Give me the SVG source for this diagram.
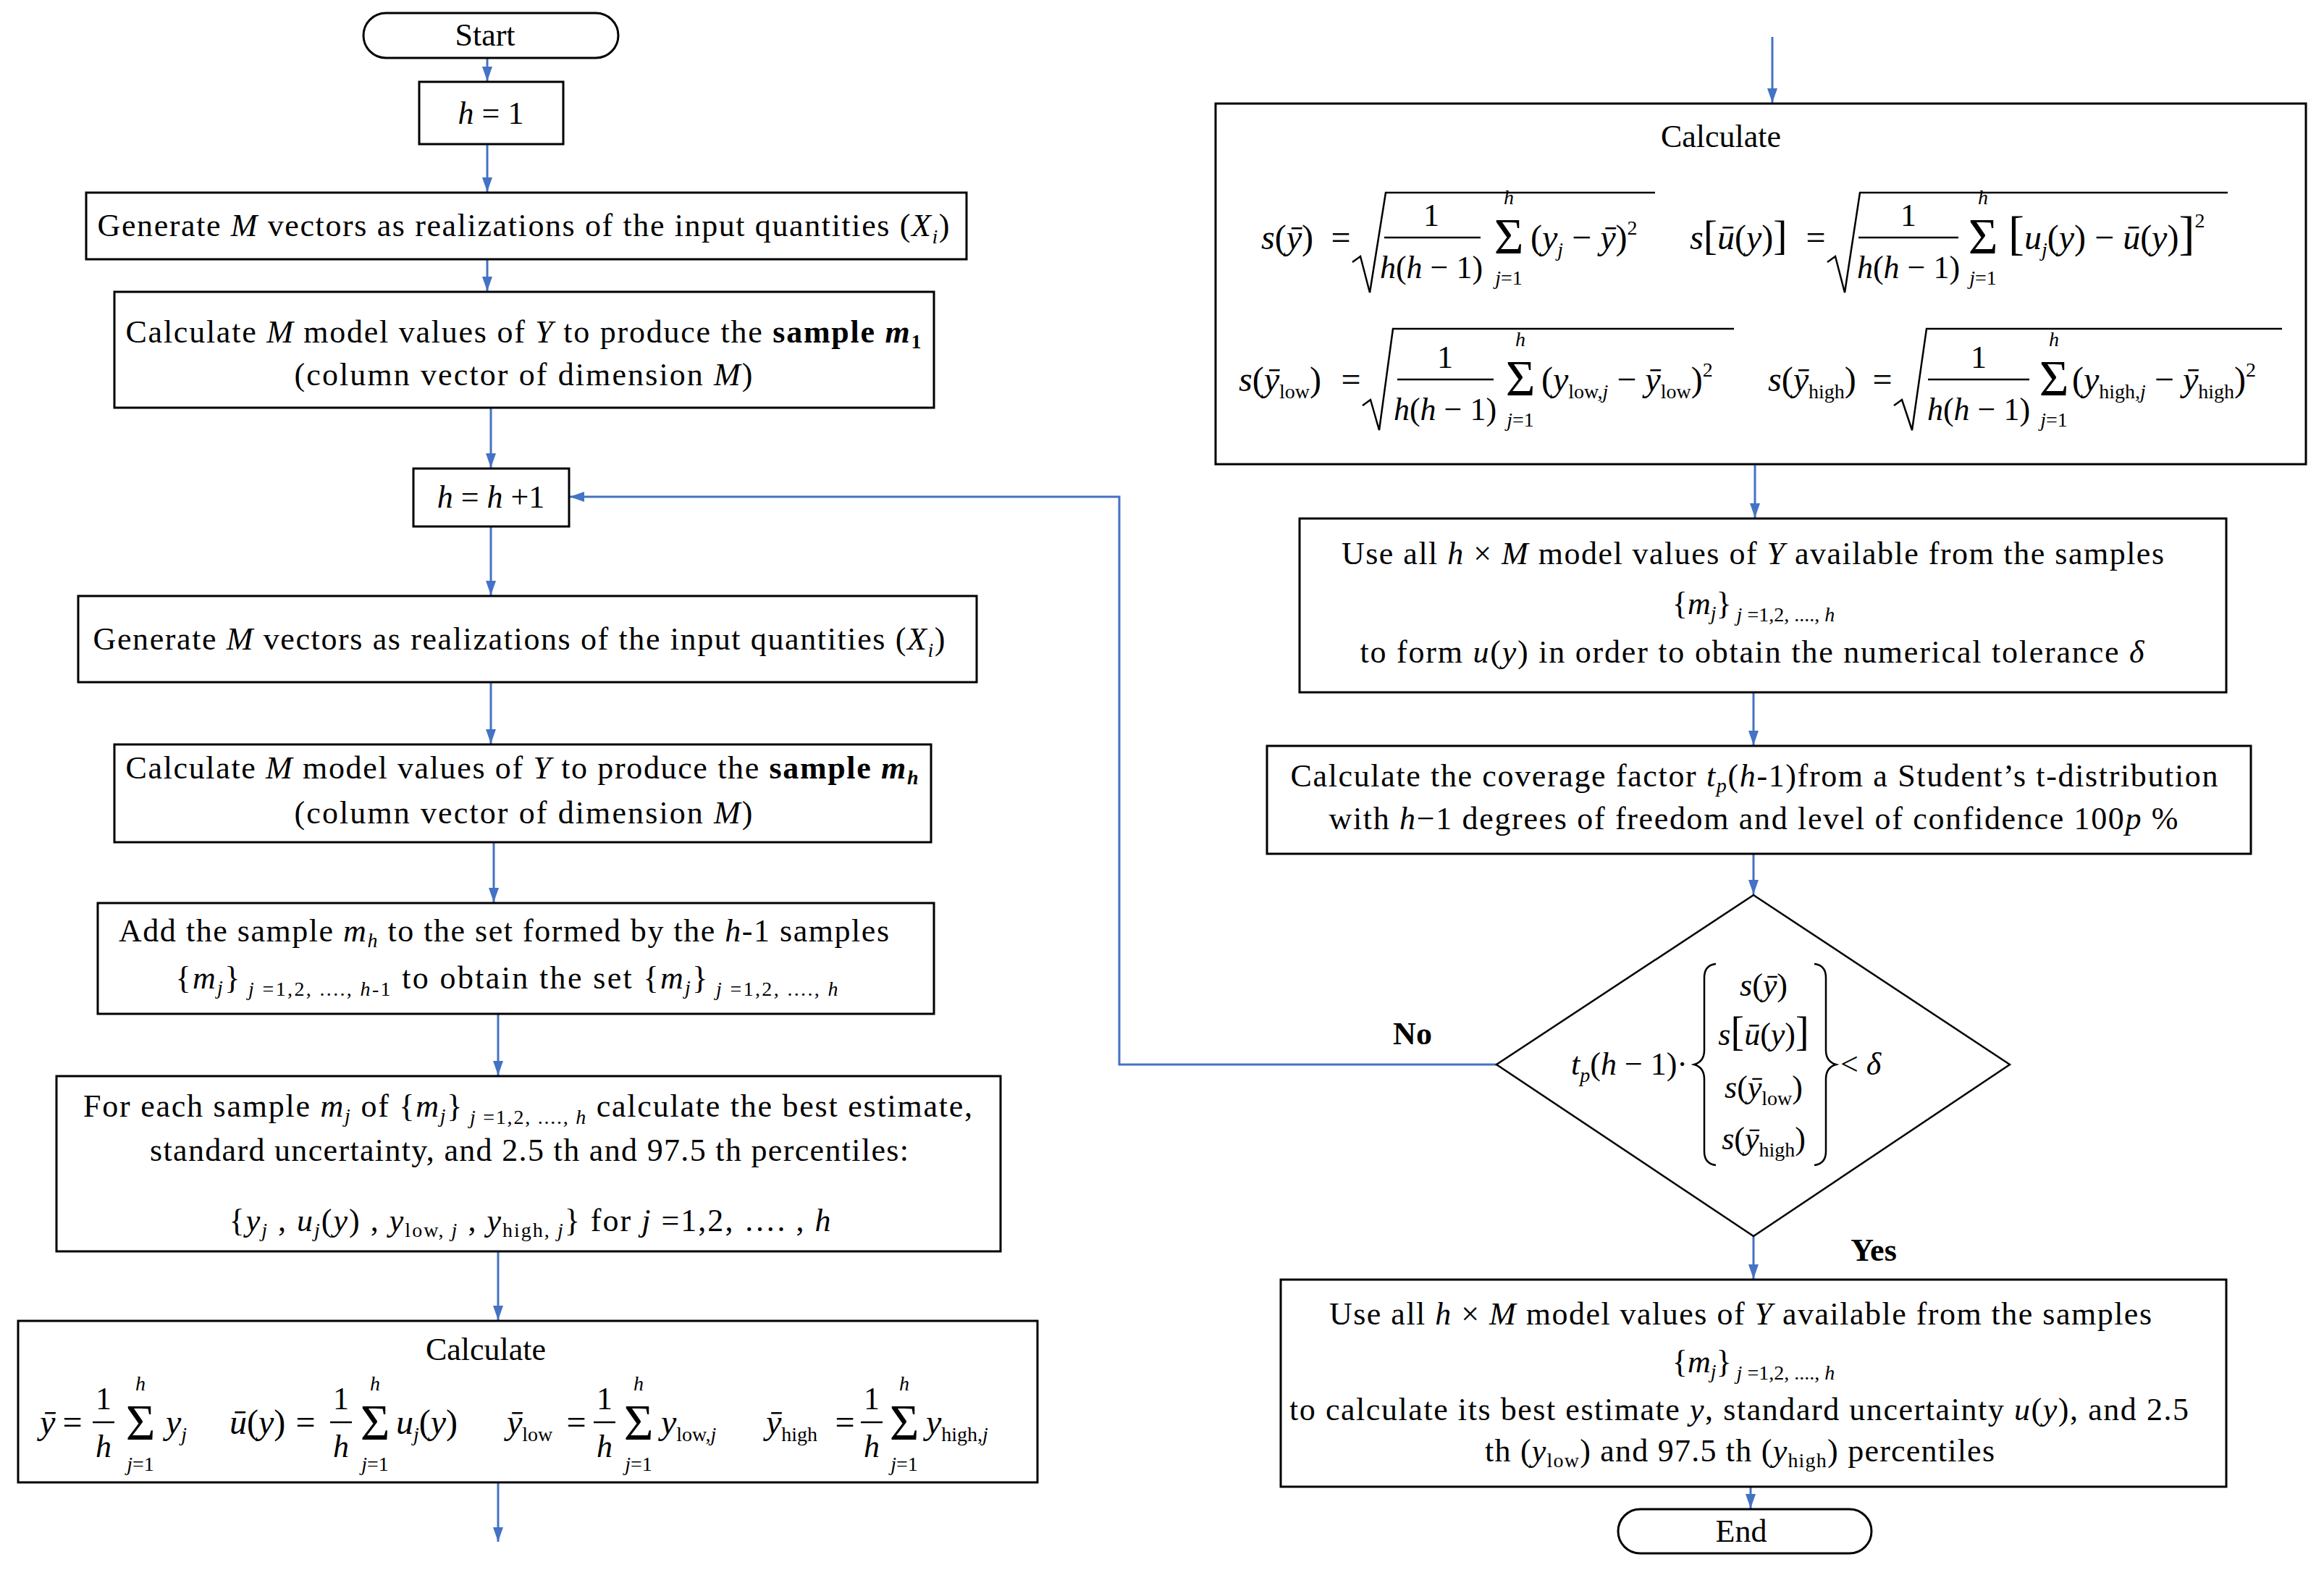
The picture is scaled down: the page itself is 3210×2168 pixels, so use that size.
<svg xmlns="http://www.w3.org/2000/svg" width="3210" height="2168" viewBox="0 0 3210 2168">
<defs>
<style>
.box{fill:#fff;stroke:#000;stroke-width:3}
.t{font-family:"Liberation Serif","Times New Roman",serif;font-size:44px;fill:#000}
.m{font-size:48px}
.i{font-style:italic}
.b{font-weight:bold}
.s{font-size:28px}
.sg{font-size:70px}
.conn{stroke:#4472C4;stroke-width:3;fill:none}
.ml{stroke:#000;stroke-width:2.5;fill:none}
</style>
<marker id="ah" markerWidth="20" markerHeight="14" refX="20" refY="7" orient="auto" markerUnits="userSpaceOnUse"><path d="M0,0 L20,7 L0,14 z" fill="#4472C4"/></marker>
</defs>
<rect width="3210" height="2168" fill="#fff"/>

<g id="connectors">
<path class="conn" marker-end="url(#ah)" d="M673,80 V112"/>
<path class="conn" marker-end="url(#ah)" d="M673,199 V265"/>
<path class="conn" marker-end="url(#ah)" d="M673,358 V402"/>
<path class="conn" marker-end="url(#ah)" d="M678,563 V646"/>
<path class="conn" marker-end="url(#ah)" d="M678,727 V822"/>
<path class="conn" marker-end="url(#ah)" d="M678,942 V1027"/>
<path class="conn" marker-end="url(#ah)" d="M682,1163 V1246"/>
<path class="conn" marker-end="url(#ah)" d="M688,1400 V1485"/>
<path class="conn" marker-end="url(#ah)" d="M688,1728 V1823"/>
<path class="conn" marker-end="url(#ah)" d="M688,2047 V2129"/>
<path class="conn" marker-end="url(#ah)" d="M2448,51 V142"/>
<path class="conn" marker-end="url(#ah)" d="M2424,641 V715"/>
<path class="conn" marker-end="url(#ah)" d="M2422,956 V1029"/>
<path class="conn" marker-end="url(#ah)" d="M2422,1179 V1235"/>
<path class="conn" marker-end="url(#ah)" d="M2422,1707 V1766"/>
<path class="conn" marker-end="url(#ah)" d="M2418,2053 V2083"/>
<path class="conn" marker-end="url(#ah)" d="M2067,1470 H1546 V686 H787"/>
<text class="t b" x="1951" y="1442" text-anchor="middle">No</text>
<text class="t b" x="2588" y="1741" text-anchor="middle">Yes</text>
</g>

<g id="start">
<rect class="box" x="502" y="18" width="352" height="62" rx="31"/>
<text class="t" x="670" y="63" text-anchor="middle">Start</text>
</g>

<g id="h1">
<rect class="box" x="579" y="113" width="199" height="86"/>
<text class="t" x="678" y="171" text-anchor="middle"><tspan class="i">h</tspan> = 1</text>
</g>

<g id="generate1">
<rect class="box" x="119" y="266" width="1216" height="92"/>
<text class="t" x="723" y="326" text-anchor="middle" textLength="1177" lengthAdjust="spacing">Generate <tspan class="i">M</tspan> vectors as realizations of the input quantities (<tspan class="i">X</tspan><tspan class="s i" dy="10">i</tspan><tspan dy="-10">)</tspan></text>
</g>

<g id="calc1">
<rect class="box" x="158" y="403" width="1132" height="160"/>
<text class="t" x="723" y="473" text-anchor="middle" textLength="1099" lengthAdjust="spacing">Calculate <tspan class="i">M</tspan> model values of <tspan class="i">Y</tspan> to produce the <tspan class="b">sample</tspan> <tspan class="b i">m</tspan><tspan class="s b" dy="8">1</tspan></text>
<text class="t" x="723" y="532" text-anchor="middle" textLength="633" lengthAdjust="spacing">(column vector of dimension <tspan class="i">M</tspan>)</text>
</g>

<g id="hplus1">
<rect class="box" x="571" y="647" width="215" height="80"/>
<text class="t" x="678" y="701" text-anchor="middle"><tspan class="i">h</tspan> = <tspan class="i">h</tspan> +1</text>
</g>

<g id="generate2">
<rect class="box" x="108" y="823" width="1241" height="119"/>
<text class="t" x="717" y="897" text-anchor="middle" textLength="1177" lengthAdjust="spacing">Generate <tspan class="i">M</tspan> vectors as realizations of the input quantities (<tspan class="i">X</tspan><tspan class="s i" dy="10">i</tspan><tspan dy="-10">)</tspan></text>
</g>

<g id="calc2">
<rect class="box" x="158" y="1028" width="1128" height="135"/>
<text class="t" x="721" y="1075" text-anchor="middle" textLength="1095" lengthAdjust="spacing">Calculate <tspan class="i">M</tspan> model values of <tspan class="i">Y</tspan> to produce the <tspan class="b">sample</tspan> <tspan class="b i">m</tspan><tspan class="s b i" dy="8">h</tspan></text>
<text class="t" x="723" y="1137" text-anchor="middle" textLength="633" lengthAdjust="spacing">(column vector of dimension <tspan class="i">M</tspan>)</text>
</g>

<g id="addsample">
<rect class="box" x="135" y="1247" width="1155" height="153"/>
<text class="t" x="696" y="1300" text-anchor="middle" textLength="1064" lengthAdjust="spacing">Add the sample <tspan class="i">m</tspan><tspan class="s i" dy="8">h</tspan><tspan dy="-8"> to the set formed by the </tspan><tspan class="i">h</tspan>-1 samples</text>
<text class="t" x="700" y="1365" text-anchor="middle" textLength="915" lengthAdjust="spacing">{<tspan class="i">m</tspan><tspan class="s i" dy="8">j</tspan><tspan dy="-8">}</tspan><tspan class="s" dy="10"> <tspan class="i">j</tspan> =1,2, ...., <tspan class="i">h</tspan>-1</tspan><tspan dy="-10"> to obtain the set {</tspan><tspan class="i">m</tspan><tspan class="s i" dy="8">j</tspan><tspan dy="-8">}</tspan><tspan class="s" dy="10"> <tspan class="i">j</tspan> =1,2, ...., <tspan class="i">h</tspan></tspan></text>
</g>

<g id="foreach">
<rect class="box" x="78" y="1486" width="1304" height="242"/>
<text class="t" x="729" y="1542" text-anchor="middle" textLength="1228" lengthAdjust="spacing">For each sample <tspan class="i">m</tspan><tspan class="s i" dy="8">j</tspan><tspan dy="-8"> of {</tspan><tspan class="i">m</tspan><tspan class="s i" dy="8">j</tspan><tspan dy="-8">}</tspan><tspan class="s" dy="10"> <tspan class="i">j</tspan> =1,2, ...., <tspan class="i">h</tspan></tspan><tspan dy="-10"> calculate the best estimate,</tspan></text>
<text class="t" x="731" y="1603" text-anchor="middle" textLength="1048" lengthAdjust="spacing">standard uncertainty, and 2.5 th and 97.5 th percentiles:</text>
<text class="t" x="732" y="1700" text-anchor="middle" textLength="831" lengthAdjust="spacing">{<tspan class="i">y</tspan><tspan class="s i" dy="8">j</tspan><tspan dy="-8"> , </tspan><tspan class="i">u</tspan><tspan class="s i" dy="8">j</tspan><tspan dy="-8">(</tspan><tspan class="i">y</tspan>) , <tspan class="i">y</tspan><tspan class="s" dy="8">low, <tspan class="i">j</tspan></tspan><tspan dy="-8"> , </tspan><tspan class="i">y</tspan><tspan class="s" dy="8">high, <tspan class="i">j</tspan></tspan><tspan dy="-8">} for </tspan><tspan class="i">j</tspan> =1,2, …. , <tspan class="i">h</tspan></text>
</g>

<g id="calcmeans">
<rect class="box" x="25" y="1824" width="1408" height="223"/>
<text class="t" x="671" y="1878" text-anchor="middle">Calculate</text>
<!-- y bar -->
<text class="t m" x="55" y="1980"><tspan class="i">ȳ</tspan></text>
<text class="t m" x="100" y="1980" text-anchor="middle">=</text>
<text class="t" x="143" y="1946" text-anchor="middle">1</text>
<line class="ml" x1="128" y1="1964" x2="158" y2="1964"/>
<text class="t i" x="143" y="2012" text-anchor="middle">h</text>
<text class="t sg" x="194" y="1988" text-anchor="middle">Σ</text>
<text class="t s i" x="194" y="1920" text-anchor="middle">h</text>
<text class="t s" x="194" y="2031" text-anchor="middle"><tspan class="i">j</tspan>=1</text>
<text class="t m" x="229" y="1980"><tspan class="i">y</tspan><tspan class="s i" dy="10">j</tspan></text>
<!-- u bar -->
<text class="t m" x="317" y="1980"><tspan class="i">ū</tspan>(<tspan class="i">y</tspan>)</text>
<text class="t m" x="422" y="1980" text-anchor="middle">=</text>
<text class="t" x="471" y="1946" text-anchor="middle">1</text>
<line class="ml" x1="456" y1="1964" x2="486" y2="1964"/>
<text class="t i" x="471" y="2012" text-anchor="middle">h</text>
<text class="t sg" x="518" y="1988" text-anchor="middle">Σ</text>
<text class="t s i" x="518" y="1920" text-anchor="middle">h</text>
<text class="t s" x="518" y="2031" text-anchor="middle"><tspan class="i">j</tspan>=1</text>
<text class="t m" x="547" y="1980"><tspan class="i">u</tspan><tspan class="s i" dy="10">j</tspan><tspan dy="-10">(</tspan><tspan class="i">y</tspan>)</text>
<!-- y low bar -->
<text class="t m" x="700" y="1980"><tspan class="i">ȳ</tspan><tspan class="s" dy="10">low</tspan></text>
<text class="t m" x="796" y="1980" text-anchor="middle">=</text>
<text class="t" x="835" y="1946" text-anchor="middle">1</text>
<line class="ml" x1="820" y1="1964" x2="850" y2="1964"/>
<text class="t i" x="835" y="2012" text-anchor="middle">h</text>
<text class="t sg" x="882" y="1988" text-anchor="middle">Σ</text>
<text class="t s i" x="882" y="1920" text-anchor="middle">h</text>
<text class="t s" x="882" y="2031" text-anchor="middle"><tspan class="i">j</tspan>=1</text>
<text class="t m" x="913" y="1980"><tspan class="i">y</tspan><tspan class="s" dy="10">low,<tspan class="i">j</tspan></tspan></text>
<!-- y high bar -->
<text class="t m" x="1058" y="1980"><tspan class="i">ȳ</tspan><tspan class="s" dy="10">high</tspan></text>
<text class="t m" x="1167" y="1980" text-anchor="middle">=</text>
<text class="t" x="1204" y="1946" text-anchor="middle">1</text>
<line class="ml" x1="1189" y1="1964" x2="1219" y2="1964"/>
<text class="t i" x="1204" y="2012" text-anchor="middle">h</text>
<text class="t sg" x="1249" y="1988" text-anchor="middle">Σ</text>
<text class="t s i" x="1249" y="1920" text-anchor="middle">h</text>
<text class="t s" x="1249" y="2031" text-anchor="middle"><tspan class="i">j</tspan>=1</text>
<text class="t m" x="1279" y="1980"><tspan class="i">y</tspan><tspan class="s" dy="10">high,<tspan class="i">j</tspan></tspan></text>
</g>

<g id="calcstd">
<rect class="box" x="1679" y="143" width="1506" height="498"/>
<text class="t" x="2377" y="203" text-anchor="middle">Calculate</text>
<!-- s(ybar) -->
<text class="t m" x="1742" y="344"><tspan class="i">s</tspan>(<tspan class="i">ȳ</tspan>)</text>
<text class="t m" x="1852" y="344" text-anchor="middle">=</text>
<path class="ml" d="M1868,362 L1879,354 L1892,404 L1914,266 H2286"/>
<text class="t" x="1977" y="312" text-anchor="middle">1</text>
<line class="ml" x1="1912" y1="328" x2="2045" y2="328"/>
<text class="t" x="1977" y="384" text-anchor="middle"><tspan class="i">h</tspan>(<tspan class="i">h</tspan> − 1)</text>
<text class="t sg" x="2084" y="350" text-anchor="middle">Σ</text>
<text class="t s i" x="2084" y="282" text-anchor="middle">h</text>
<text class="t s" x="2084" y="393" text-anchor="middle"><tspan class="i">j</tspan>=1</text>
<text class="t m" x="2114" y="344">(<tspan class="i">y</tspan><tspan class="s i" dy="10">j</tspan><tspan dy="-10"> − </tspan><tspan class="i">ȳ</tspan>)<tspan class="s" dy="-20">2</tspan></text>
<!-- s[ubar(y)] -->
<text class="t m" x="2334" y="344"><tspan class="i">s</tspan><tspan font-size="58">[</tspan><tspan class="i">ū</tspan>(<tspan class="i">y</tspan>)<tspan font-size="58">]</tspan></text>
<text class="t m" x="2508" y="344" text-anchor="middle">=</text>
<path class="ml" d="M2524,362 L2535,354 L2548,404 L2569,266 H3077"/>
<text class="t" x="2636" y="312" text-anchor="middle">1</text>
<line class="ml" x1="2567" y1="328" x2="2705" y2="328"/>
<text class="t" x="2636" y="384" text-anchor="middle"><tspan class="i">h</tspan>(<tspan class="i">h</tspan> − 1)</text>
<text class="t sg" x="2739" y="350" text-anchor="middle">Σ</text>
<text class="t s i" x="2739" y="282" text-anchor="middle">h</text>
<text class="t s" x="2739" y="393" text-anchor="middle"><tspan class="i">j</tspan>=1</text>
<text class="t m" x="2774" y="344"><tspan font-size="66">[</tspan><tspan class="i">u</tspan><tspan class="s i" dy="10">j</tspan><tspan dy="-10">(</tspan><tspan class="i">y</tspan>) − <tspan class="i">ū</tspan>(<tspan class="i">y</tspan>)<tspan font-size="66">]</tspan><tspan class="s" dy="-30">2</tspan></text>
<!-- s(ybar low) -->
<text class="t m" x="1711" y="540"><tspan class="i">s</tspan>(<tspan class="i">ȳ</tspan><tspan class="s" dy="10">low</tspan><tspan dy="-10">)</tspan></text>
<text class="t m" x="1866" y="540" text-anchor="middle">=</text>
<path class="ml" d="M1882,560 L1893,552 L1905,594 L1924,454 H2395"/>
<text class="t" x="1996" y="508" text-anchor="middle">1</text>
<line class="ml" x1="1930" y1="524" x2="2063" y2="524"/>
<text class="t" x="1996" y="580" text-anchor="middle"><tspan class="i">h</tspan>(<tspan class="i">h</tspan> − 1)</text>
<text class="t sg" x="2100" y="546" text-anchor="middle">Σ</text>
<text class="t s i" x="2100" y="478" text-anchor="middle">h</text>
<text class="t s" x="2100" y="589" text-anchor="middle"><tspan class="i">j</tspan>=1</text>
<text class="t m" x="2129" y="540">(<tspan class="i">y</tspan><tspan class="s" dy="10">low,<tspan class="i">j</tspan></tspan><tspan dy="-10"> − </tspan><tspan class="i">ȳ</tspan><tspan class="s" dy="10">low</tspan><tspan dy="-10">)</tspan><tspan class="s" dy="-20">2</tspan></text>
<!-- s(ybar high) -->
<text class="t m" x="2442" y="540"><tspan class="i">s</tspan>(<tspan class="i">ȳ</tspan><tspan class="s" dy="10">high</tspan><tspan dy="-10">)</tspan></text>
<text class="t m" x="2600" y="540" text-anchor="middle">=</text>
<path class="ml" d="M2616,560 L2627,552 L2641,594 L2661,454 H3152"/>
<text class="t" x="2733" y="508" text-anchor="middle">1</text>
<line class="ml" x1="2663" y1="524" x2="2803" y2="524"/>
<text class="t" x="2733" y="580" text-anchor="middle"><tspan class="i">h</tspan>(<tspan class="i">h</tspan> − 1)</text>
<text class="t sg" x="2837" y="546" text-anchor="middle">Σ</text>
<text class="t s i" x="2837" y="478" text-anchor="middle">h</text>
<text class="t s" x="2837" y="589" text-anchor="middle"><tspan class="i">j</tspan>=1</text>
<text class="t m" x="2862" y="540">(<tspan class="i">y</tspan><tspan class="s" dy="10">high,<tspan class="i">j</tspan></tspan><tspan dy="-10"> − </tspan><tspan class="i">ȳ</tspan><tspan class="s" dy="10">high</tspan><tspan dy="-10">)</tspan><tspan class="s" dy="-20">2</tspan></text>
</g>

<g id="tolerance">
<rect class="box" x="1795" y="716" width="1280" height="240"/>
<text class="t" x="2421" y="779" text-anchor="middle" textLength="1136" lengthAdjust="spacing">Use all <tspan class="i">h</tspan> × <tspan class="i">M</tspan> model values of <tspan class="i">Y</tspan> available from the samples</text>
<text class="t" x="2422" y="848" text-anchor="middle">{<tspan class="i">m</tspan><tspan class="s i" dy="8">j</tspan><tspan dy="-8">}</tspan><tspan class="s" dy="10"> <tspan class="i">j</tspan> =1,2, ...., <tspan class="i">h</tspan></tspan></text>
<text class="t" x="2420" y="915" text-anchor="middle" textLength="1083" lengthAdjust="spacing">to form <tspan class="i">u</tspan>(<tspan class="i">y</tspan>) in order to obtain the numerical tolerance <tspan class="i">δ</tspan></text>
</g>

<g id="coverage">
<rect class="box" x="1750" y="1030" width="1359" height="149"/>
<text class="t" x="2423" y="1086" text-anchor="middle" textLength="1281" lengthAdjust="spacing">Calculate the coverage factor <tspan class="i">t</tspan><tspan class="s i" dy="8">p</tspan><tspan dy="-8">(</tspan><tspan class="i">h</tspan>-1)from a Student’s t-distribution</text>
<text class="t" x="2422" y="1145" text-anchor="middle" textLength="1173" lengthAdjust="spacing">with <tspan class="i">h</tspan>−1 degrees of freedom and level of confidence 100<tspan class="i">p</tspan> %</text>
</g>

<g id="decision">
<polygon points="2422,1236 2776,1470 2422,1707 2067,1470" fill="#fff" stroke="#000" stroke-width="2.5"/>
<text class="t" x="2170" y="1484"><tspan class="i">t</tspan><tspan class="s i" dy="10">p</tspan><tspan dy="-10">(</tspan><tspan class="i">h</tspan> − 1)·</text>
<path class="ml" d="M2370,1331 Q2354,1333 2354,1350 V1450 Q2354,1466 2340,1470 Q2354,1474 2354,1490 V1590 Q2354,1607 2370,1609"/>
<path class="ml" d="M2506,1331 Q2522,1333 2522,1350 V1450 Q2522,1466 2536,1470 Q2522,1474 2522,1490 V1590 Q2522,1607 2506,1609"/>
<text class="t" x="2436" y="1375" text-anchor="middle"><tspan class="i">s</tspan>(<tspan class="i">ȳ</tspan>)</text>
<text class="t" x="2436" y="1443" text-anchor="middle"><tspan class="i">s</tspan><tspan font-size="56">[</tspan><tspan class="i">ū</tspan>(<tspan class="i">y</tspan>)<tspan font-size="56">]</tspan></text>
<text class="t" x="2436" y="1516" text-anchor="middle"><tspan class="i">s</tspan>(<tspan class="i">ȳ</tspan><tspan class="s" dy="10">low</tspan><tspan dy="-10">)</tspan></text>
<text class="t" x="2436" y="1587" text-anchor="middle"><tspan class="i">s</tspan>(<tspan class="i">ȳ</tspan><tspan class="s" dy="10">high</tspan><tspan dy="-10">)</tspan></text>
<text class="t" x="2542" y="1484">&lt; <tspan class="i">δ</tspan></text>
</g>

<g id="final">
<rect class="box" x="1769" y="1767" width="1306" height="286"/>
<text class="t" x="2404" y="1829" text-anchor="middle" textLength="1136" lengthAdjust="spacing">Use all <tspan class="i">h</tspan> × <tspan class="i">M</tspan> model values of <tspan class="i">Y</tspan> available from the samples</text>
<text class="t" x="2422" y="1895" text-anchor="middle">{<tspan class="i">m</tspan><tspan class="s i" dy="8">j</tspan><tspan dy="-8">}</tspan><tspan class="s" dy="10"> <tspan class="i">j</tspan> =1,2, ...., <tspan class="i">h</tspan></tspan></text>
<text class="t" x="2402" y="1961" text-anchor="middle" textLength="1242" lengthAdjust="spacing">to calculate its best estimate <tspan class="i">y</tspan>, standard uncertainty <tspan class="i">u</tspan>(<tspan class="i">y</tspan>), and 2.5</text>
<text class="t" x="2403" y="2018" text-anchor="middle" textLength="704" lengthAdjust="spacing">th (<tspan class="i">y</tspan><tspan class="s" dy="8">low</tspan><tspan dy="-8">) and 97.5 th (</tspan><tspan class="i">y</tspan><tspan class="s" dy="8">high</tspan><tspan dy="-8">) percentiles</tspan></text>
</g>

<g id="end">
<rect class="box" x="2235" y="2084" width="350" height="61" rx="30.5"/>
<text class="t" x="2405" y="2129" text-anchor="middle">End</text>
</g>
</svg>
